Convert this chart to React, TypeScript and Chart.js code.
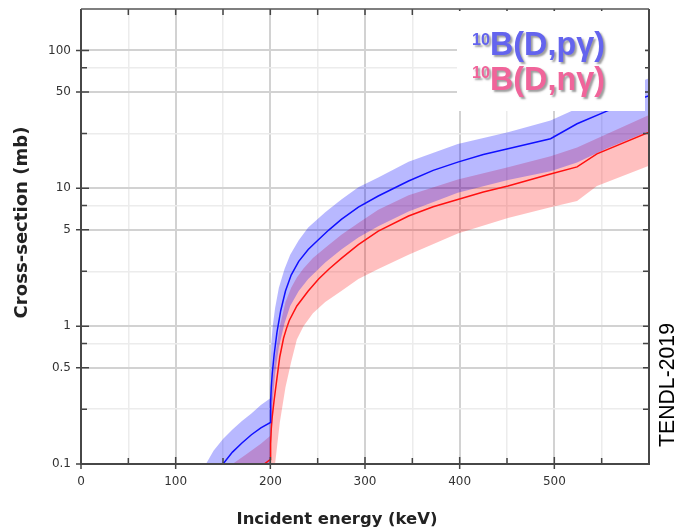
import React, { useEffect, useRef } from 'react';
import { Chart, registerables } from 'chart.js';

Chart.register(...registerables);

// 10B(D,p gamma) central values
const pgLineEnergy = [140, 150, 160, 170, 180, 190, 200, 200.3, 201, 202, 204, 207, 211, 216, 222, 230, 240, 251, 262, 275, 293, 314, 346, 372, 398, 425, 451, 496, 524, 556, 600];
const pgLineValue = [0.085, 0.1, 0.122, 0.142, 0.163, 0.183, 0.2, 0.28, 0.36, 0.45, 0.62, 0.9, 1.3, 1.8, 2.35, 2.95, 3.6, 4.25, 5.0, 5.95, 7.3, 8.8, 11.3, 13.5, 15.5, 17.6, 19.4, 22.9, 29.4, 36.5, 47];

// 10B(D,p gamma) uncertainty band
const pgBandEnergy = [125, 132, 140, 150, 160, 170, 180, 190, 200, 200.3, 201, 202.5, 205, 209, 215, 221, 230, 240, 258, 275, 293, 314, 346, 398, 451, 496, 524, 556, 600];
const pgBandUpper = [0.085, 0.1, 0.125, 0.152, 0.178, 0.205, 0.232, 0.268, 0.3, 0.5, 0.75, 1.0, 1.35, 1.9, 2.6, 3.3, 4.2, 5.2, 6.7, 8.3, 10.2, 12.0, 15.6, 21, 25.5, 31, 38, 48, 63];
const pgBandLower = [0.05, 0.05, 0.05, 0.05, 0.05, 0.05, 0.05, 0.05, 0.05, 0.1, 0.17, 0.28, 0.45, 0.7, 1.05, 1.4, 1.8, 2.2, 2.9, 3.6, 4.4, 5.3, 6.8, 9.3, 11.5, 13.3, 15.4, 19.5, 26];

// 10B(D,n gamma) central values
const ngLineEnergy = [185, 200, 200.3, 201, 202, 204, 207, 210, 214, 217, 220, 228, 240, 251, 262, 275, 293, 314, 346, 372, 398, 425, 451, 496, 524, 545, 600];
const ngLineValue = [0.09, 0.108, 0.14, 0.18, 0.22, 0.29, 0.42, 0.6, 0.82, 0.96, 1.1, 1.4, 1.8, 2.2, 2.6, 3.1, 3.9, 4.9, 6.3, 7.35, 8.3, 9.4, 10.4, 12.7, 14.3, 17.8, 25.5];

// 10B(D,n gamma) uncertainty band
const ngBandEnergy = [150, 160, 175, 190, 200, 200.3, 201, 202.5, 205, 210, 216, 222, 228, 235, 245, 258, 275, 293, 314, 346, 398, 451, 496, 524, 545, 600];
const ngBandUpper = [0.085, 0.1, 0.118, 0.14, 0.16, 0.24, 0.32, 0.42, 0.6, 1.0, 1.5, 1.9, 2.25, 2.62, 3.12, 3.7, 4.6, 5.6, 7.0, 8.9, 11.6, 14.2, 17.1, 19.8, 23, 34];
const ngBandLower = [0.05, 0.05, 0.05, 0.05, 0.05, 0.05, 0.05, 0.05, 0.1, 0.2, 0.36, 0.55, 0.8, 1.0, 1.24, 1.5, 1.8, 2.2, 2.6, 3.3, 4.7, 6.1, 7.3, 8.1, 10.4, 14.6];

// axes
const xTickValues = [0, 50, 100, 150, 200, 250, 300, 350, 400, 450, 500, 550];
const xLabelValues = [0, 100, 200, 300, 400, 500];
const yTickValues = [0.1, 0.25, 0.5, 0.75, 1, 2.5, 5, 7.5, 10, 25, 50, 75, 100];
const yLabelValues = [0.1, 0.5, 1, 5, 10, 50, 100];

const xTitle = 'Incident energy (keV)';
const yTitle = 'Cross-section (mb)';
const legendPg = 'B(D,pγ)';
const legendNg = 'B(D,nγ)';
const legendSup = '10';
const sideNote = 'TENDL-2019';

const toPoints = (xs: number[], ys: number[]) => xs.map((x, i) => ({ x, y: ys[i] }));

function fitSize(ctx: CanvasRenderingContext2D, text: string, weight: string, family: string, width: number) {
  ctx.font = `${weight} 100px ${family}`;
  const w = ctx.measureText(text).width;
  return (100 * width) / w;
}

const decorPlugin = {
  id: 'decor',
  afterDraw(chart: any) {
    const { ctx, chartArea: a, scales } = chart;
    const xs = scales.x;
    const ys = scales.y;
    ctx.save();

    // tick marks
    ctx.strokeStyle = '#444';
    ctx.lineWidth = 1.5;
    ctx.beginPath();
    yTickValues.forEach((v) => {
      const py = ys.getPixelForValue(v);
      const major = yLabelValues.includes(v);
      ctx.moveTo(major ? a.left - 5 : a.left, py);
      ctx.lineTo(major ? a.left + 8 : a.left + 6, py);
      ctx.moveTo(a.right - 6, py);
      ctx.lineTo(a.right, py);
    });
    xTickValues.forEach((v) => {
      const px = xs.getPixelForValue(v);
      const major = xLabelValues.includes(v);
      ctx.moveTo(px, major ? a.bottom + 5 : a.bottom);
      ctx.lineTo(px, major ? a.bottom - 7 : a.bottom - 6);
      ctx.moveTo(px, a.top);
      ctx.lineTo(px, a.top + 6);
    });
    ctx.stroke();

    // legend box (white panel)
    ctx.fillStyle = '#ffffff';
    ctx.fillRect(457, a.top + 2, 188, 100);

    // frame
    ctx.strokeStyle = '#474747';
    ctx.lineWidth = 2;
    ctx.beginPath();
    ctx.moveTo(a.left, a.top);
    ctx.lineTo(a.left, a.bottom);
    ctx.lineTo(a.right, a.bottom);
    ctx.lineTo(a.right, a.top);
    ctx.stroke();
    ctx.lineWidth = 1.5;
    ctx.strokeStyle = '#555';
    ctx.beginPath();
    ctx.moveTo(a.left, a.top);
    ctx.lineTo(a.right, a.top);
    ctx.stroke();

    // legend texts
    const fam = '"Liberation Sans", Arial, sans-serif';
    const drawLegend = (text: string, color: string, baseY: number, supY: number) => {
      ctx.save();
      ctx.shadowColor = 'rgba(60,60,60,0.5)';
      ctx.shadowOffsetX = 2;
      ctx.shadowOffsetY = 2;
      ctx.shadowBlur = 2;
      ctx.fillStyle = color;
      ctx.textAlign = 'left';
      ctx.textBaseline = 'alphabetic';
      const big = fitSize(ctx, text, 'bold', fam, 115);
      ctx.font = `bold ${big}px ${fam}`;
      ctx.fillText(text, 490, baseY);
      const small = fitSize(ctx, legendSup, 'bold', fam, 18);
      ctx.font = `bold ${small}px ${fam}`;
      ctx.fillText(legendSup, 472, supY);
      ctx.restore();
    };
    drawLegend(legendPg, '#6464ee', 55, 45);
    drawLegend(legendNg, '#f0649a', 90, 78);

    // axis titles
    const tfam = '"DejaVu Sans", sans-serif';
    ctx.fillStyle = '#222';
    ctx.textAlign = 'center';
    ctx.textBaseline = 'middle';
    let s = fitSize(ctx, xTitle, 'bold', tfam, 201);
    ctx.font = `bold ${s}px ${tfam}`;
    ctx.fillText(xTitle, 337, 520);

    ctx.save();
    ctx.translate(22, 222.5);
    ctx.rotate(-Math.PI / 2);
    s = fitSize(ctx, yTitle, 'bold', tfam, 192);
    ctx.font = `bold ${s}px ${tfam}`;
    ctx.fillText(yTitle, 0, 0);
    ctx.restore();

    // side note
    ctx.save();
    ctx.translate(668, 385);
    ctx.rotate(-Math.PI / 2);
    s = fitSize(ctx, sideNote, 'normal', fam, 124);
    ctx.font = `normal ${s}px ${fam}`;
    ctx.fillStyle = '#000';
    ctx.fillText(sideNote, 0, 0);
    ctx.restore();

    ctx.restore();
  },
};

export default function App() {
  const canvasRef = useRef<HTMLCanvasElement | null>(null);

  useEffect(() => {
    const canvas = canvasRef.current;
    if (!canvas) return;
    const band = {
      borderWidth: 0,
      borderColor: 'rgba(0,0,0,0)',
      pointRadius: 0,
      showLine: false,
      tension: 0,
    };
    const chart = new Chart(canvas, {
      type: 'line',
      data: {
        datasets: [
          {
            label: 'pg',
            data: toPoints(pgLineEnergy, pgLineValue),
            borderColor: '#1010ff',
            borderWidth: 1.5,
            pointRadius: 0,
            fill: false,
            tension: 0,
          },
          {
            label: 'ng',
            data: toPoints(ngLineEnergy, ngLineValue),
            borderColor: '#ff1010',
            borderWidth: 1.5,
            pointRadius: 0,
            fill: false,
            tension: 0,
          },
          {
            ...band,
            label: 'pgUpper',
            data: toPoints(pgBandEnergy, pgBandUpper),
            fill: '+1',
            backgroundColor: 'rgba(0,0,255,0.28)',
          },
          {
            ...band,
            label: 'pgLower',
            data: toPoints(pgBandEnergy, pgBandLower),
            fill: false,
          },
          {
            ...band,
            label: 'ngUpper',
            data: toPoints(ngBandEnergy, ngBandUpper),
            fill: '+1',
            backgroundColor: 'rgba(255,0,0,0.25)',
          },
          {
            ...band,
            label: 'ngLower',
            data: toPoints(ngBandEnergy, ngBandLower),
            fill: false,
          },
        ],
      },
      options: {
        animation: false,
        responsive: false,
        events: [],
        layout: { padding: { left: 0, right: 26, top: 9, bottom: 0 } },
        plugins: { legend: { display: false }, tooltip: { enabled: false } },
        scales: {
          x: {
            type: 'linear',
            min: 0,
            max: 600,
            border: { display: false },
            grid: {
              drawTicks: false,
              color: (c: any) => (c.tick && c.tick.value % 100 === 0 ? '#d2d2d2' : '#ececec'),
              lineWidth: (c: any) => (c.tick && c.tick.value % 100 === 0 ? 2 : 1.5),
            },
            ticks: {
              padding: 11,
              autoSkip: false,
              maxRotation: 0,
              color: '#333',
              font: { family: '"DejaVu Sans", sans-serif', size: 12 },
              callback: (v: any) => (xLabelValues.includes(Number(v)) ? String(v) : ''),
            },
            afterBuildTicks: (s: any) => {
              s.ticks = xTickValues.map((value) => ({ value }));
            },
            afterFit: (s: any) => {
              s.height = 65;
              s.paddingLeft = 0;
              s.paddingRight = 0;
            },
          },
          y: {
            type: 'logarithmic',
            min: 0.1,
            max: 200,
            border: { display: false },
            grid: {
              drawTicks: false,
              color: (c: any) => (c.tick && yLabelValues.includes(c.tick.value) ? '#d2d2d2' : '#ececec'),
              lineWidth: (c: any) => (c.tick && yLabelValues.includes(c.tick.value) ? 2 : 1.5),
            },
            ticks: {
              padding: 10,
              autoSkip: false,
              color: '#333',
              font: { family: '"DejaVu Sans", sans-serif', size: 12 },
              callback: (v: any) => (yLabelValues.includes(Number(v)) ? String(v) : ''),
            },
            afterBuildTicks: (s: any) => {
              s.ticks = yTickValues.map((value) => ({ value }));
            },
            afterFit: (s: any) => {
              s.width = 81;
              s.paddingTop = 0;
              s.paddingBottom = 0;
            },
          },
        },
      },
      plugins: [decorPlugin],
    } as any);
    return () => chart.destroy();
  }, []);

  return (
    <div style={{ position: 'fixed', left: 0, top: 0, width: 675, height: 529, background: '#fff' }}>
      <canvas ref={canvasRef} width={675} height={529} style={{ width: 675, height: 529, display: 'block' }} />
    </div>
  );
}
